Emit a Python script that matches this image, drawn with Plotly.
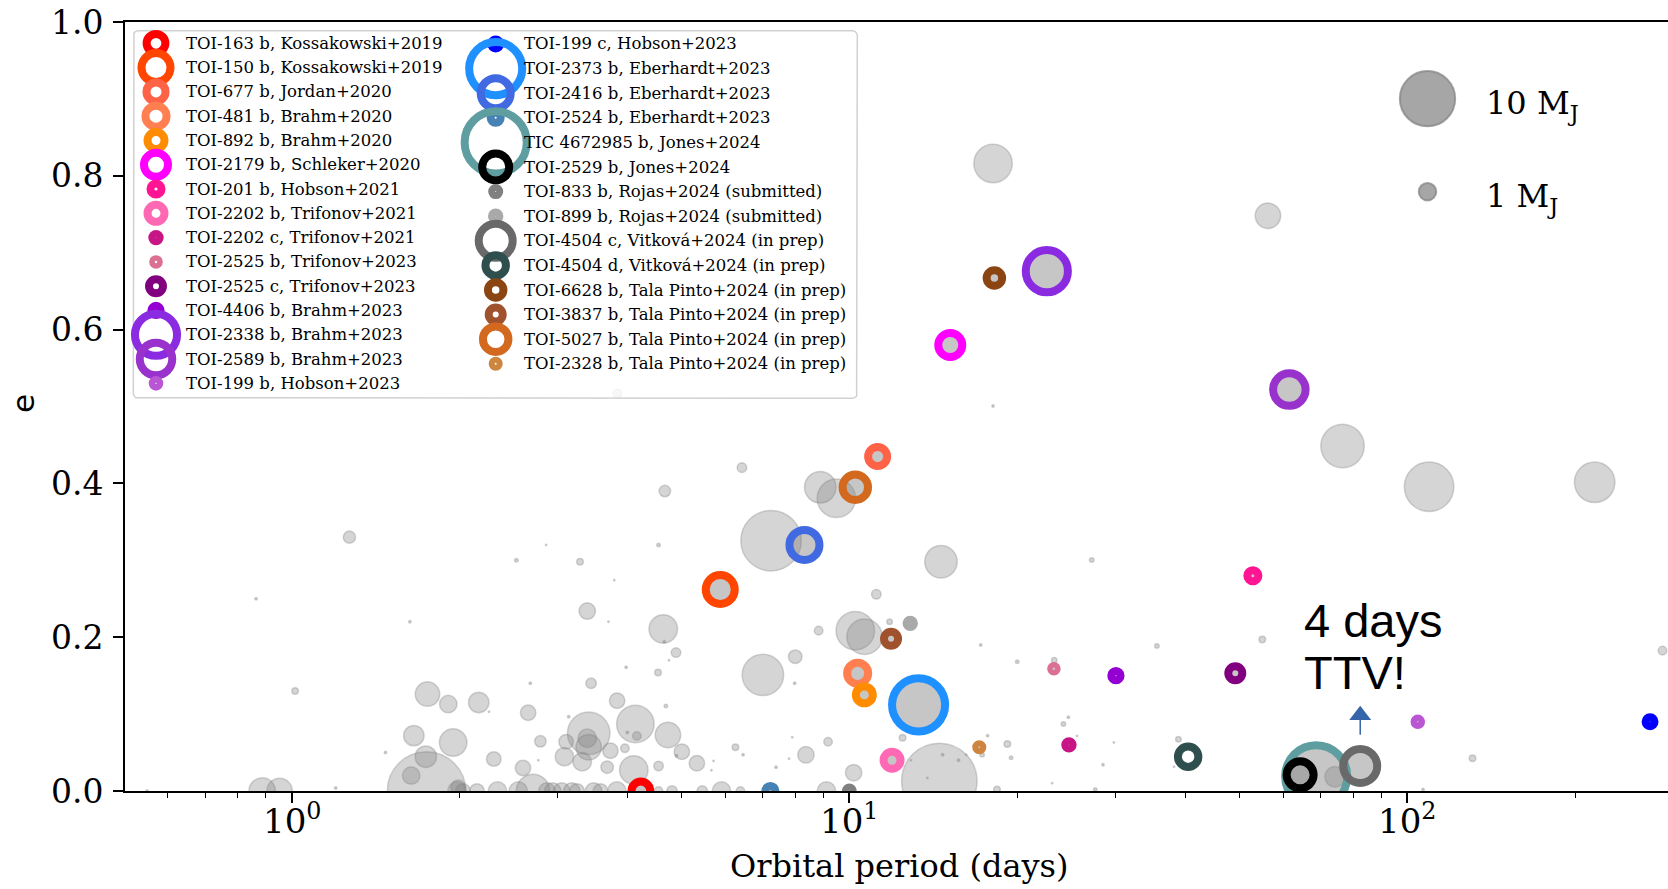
import numpy as np
import plotly.graph_objects as go

# ---------------- background population (period [d], eccentricity, mass [M_J]) ----------------
cat_period = [1.27, 2.53, 0.864, 1.63, 1.015, 1.753, 1.91, 2.166, 2.26, 1.657,
              1.949, 1.741, 1.639, 1.746, 1.474, 2.305, 0.886, 0.952, 1.2, 0.551,
              2.656, 2.6, 2.794, 2.68, 3.444, 3.98, 4.54, 3.14, 3.41, 3.39,
              3.41, 3.107, 3.085, 3.32, 3.68, 3.73, 3.96, 3.835, 4.135, 4.16,
              4.0, 4.69, 4.73, 4.108, 5.01, 5.33, 4.55, 4.9, 5.71, 5.66,
              6.25, 6.45, 7.39, 8.36, 9.16, 7.9, 7.8, 7.98, 7.0, 10.18,
              6.42, 4.67, 8.87, 9.48, 7.24, 2.86, 4.55, 3.29, 3.79, 3.39,
              3.70, 4.64, 4.66, 4.89, 4.75, 11.18, 10.25, 10.65, 11.81, 8.81,
              8.0, 12.46, 12.9, 14.5, 14.7, 15.7, 13.8, 16.2, 17.3, 17.7,
              19.2, 19.5, 18.4, 17.2, 20.0, 23.3, 18.1, 27.2, 14.6, 35.6,
              55.0, 24.2, 24.7, 25.6, 29.8, 28.5, 23.1, 38.9, 38.2, 18.1,
              56.3, 76.6, 109.5, 216.9, 287.0, 131.0, 74.3, 3.84, 2.77, 27.6,
              106.8, 1.98, 1.99, 2.03, 2.15, 2.34, 2.55, 2.71, 2.87, 2.94,
              3.05, 3.18, 3.25, 3.48, 3.58, 3.83, 4.55, 4.81, 5.45, 5.9,
              6.38, 9.1]
cat_ecc = [0.330, 0.300, 0.250, 0.220, 0.130, 0.126, 0.113, 0.115, 0.103, 0.072,
           0.063, 0.0446, 0.020, 0.0, 0.050, 0.0416, 0.0, 0.0, 0.004, 0.0,
           0.1017, 0.030, 0.0646, 0.140, 0.140, 0.161, 0.154, 0.0966, 0.075, 0.0686,
           0.057, 0.064, 0.0446, 0.038, 0.031, 0.0524, 0.0555, 0.1174, 0.0871, 0.0715,
           0.076, 0.1105, 0.0728, 0.0273, 0.0511, 0.036, 0.0325, 0.046, 0.039, 0.027,
           0.057, 0.047, 0.031, 0.047, 0.064, 0.070, 0.042, 0.140, 0.151, 0.0238,
           0.4205, 0.390, 0.395, 0.3806, 0.3255, 0.320, 0.320, 0.298, 0.274, 0.234,
           0.220, 0.2107, 0.194, 0.180, 0.170, 0.2558, 0.2085, 0.2006, 0.220, 0.2085,
           0.1747, 0.0693, 0.040, 0.013, 0.047, 0.040, 0.017, 0.047, 0.047, 0.072,
           0.061, 0.0433, 0.002, 0.190, 0.168, 0.170, 0.5007, 0.3004, 0.2982, 0.1886,
           0.197, 0.087, 0.096, 0.0715, 0.063, 0.034, 0.010, 0.0673, 0.0316, 0.816,
           0.748, 0.4486, 0.3957, 0.4014, 0.1825, 0.0425, 0.0185, 0.517, 0.040, 0.002,
           0.002, 0.0, 0.005, 0.0, 0.0, 0.0, 0.0, 0.0, 0.0, 0.0,
           0.0, 0.0, 0.0, 0.0, 0.0, 0.0, 0.0, 0.0, 0.0, 0.0,
           0.0, 0.0]
cat_mass = [0.49, 0.04, 0.02, 0.02, 0.14, 1.96, 1.0, 1.37, 0.007, 1.37,
            2.47, 1.51, 1.0, 20.1, 0.02, 0.69, 2.29, 2.12, 0.02, 0.02,
            0.78, 0.78, 0.43, 0.02, 0.36, 0.02, 0.14, 0.02, 5.9, 1.12,
            2.12, 0.69, 1.12, 1.12, 0.51, 0.78, 0.24, 0.78, 4.59, 0.24,
            0.02, 0.04, 2.12, 2.65, 0.78, 0.78, 0.3, 0.02, 0.007, 0.007,
            0.14, 0.02, 0.02, 0.89, 0.24, 0.007, 0.007, 0.02, 5.62, 0.89,
            0.3, 0.43, 3.24, 4.84, 11.95, 0.007, 0.04, 0.14, 0.007, 0.89,
            0.007, 2.65, 0.02, 0.3, 0.007, 0.3, 4.84, 4.12, 0.1, 0.24,
            0.6, 0.14, 0.007, 18.6, 0.02, 0.02, 0.007, 0.007, 0.066, 0.02,
            0.14, 0.04, 0.14, 0.02, 0.04, 0.1, 0.02, 0.066, 3.45, 0.066,
            0.14, 0.066, 0.02, 0.007, 0.007, 0.02, 0.007, 0.1, 0.007, 4.84,
            2.12, 6.18, 8.0, 5.36, 0.24, 0.14, 1.37, 0.24, 0.007, 0.04,
            0.02, 1.12, 0.69, 0.69, 0.69, 1.12, 1.12, 3.67, 0.89, 0.89,
            0.89, 0.89, 0.69, 0.89, 0.69, 1.12, 0.24, 0.36, 0.36, 1.12,
            0.24, 1.12]

# ---------------- highlighted planets ----------------
pl_name = ["TOI-163 b", "TOI-150 b", "TOI-677 b", "TOI-481 b", "TOI-892 b",
           "TOI-2179 b", "TOI-201 b", "TOI-2202 b", "TOI-2202 c", "TOI-2525 b",
           "TOI-2525 c", "TOI-4406 b", "TOI-2338 b", "TOI-2589 b", "TOI-199 b",
           "TOI-199 c", "TOI-2373 b", "TOI-2416 b", "TOI-2524 b", "TIC 4672985 b",
           "TOI-2529 b", "TOI-833 b", "TOI-899 b", "TOI-4504 c", "TOI-4504 d",
           "TOI-6628 b", "TOI-3837 b", "TOI-5027 b", "TOI-2328 b"]
pl_ref = ["Kossakowski+2019", "Kossakowski+2019", "Jordan+2020", "Brahm+2020", "Brahm+2020",
          "Schleker+2020", "Hobson+2021", "Trifonov+2021", "Trifonov+2021", "Trifonov+2023",
          "Trifonov+2023", "Brahm+2023", "Brahm+2023", "Brahm+2023", "Hobson+2023",
          "Hobson+2023", "Eberhardt+2023", "Eberhardt+2023", "Eberhardt+2023", "Jones+2024",
          "Jones+2024", "Rojas+2024 (submitted)", "Rojas+2024 (submitted)",
          "Vitková+2024 (in prep)", "Vitková+2024 (in prep)",
          "Tala Pinto+2024 (in prep)", "Tala Pinto+2024 (in prep)",
          "Tala Pinto+2024 (in prep)", "Tala Pinto+2024 (in prep)"]
pl_color = ["red", "orangered", "tomato", "coral", "darkorange",
            "magenta", "deeppink", "hotpink", "mediumvioletred", "palevioletred",
            "purple", "darkviolet", "blueviolet", "darkorchid", "mediumorchid",
            "blue", "dodgerblue", "royalblue", "steelblue", "cadetblue",
            "black", "grey", "darkgrey", "dimgrey", "darkslategrey",
            "saddlebrown", "sienna", "chocolate", "peru"]
pl_period = [4.23, 5.87, 11.24, 10.35, 10.64, 15.17, 52.9, 11.93, 24.76, 23.27,
             49.2, 30.06, 22.6, 61.5, 104.5, 272.6, 13.31, 8.31, 7.22, 68.7,
             64.3, 10.0, 12.86, 82.4, 40.5, 18.2, 11.88, 10.25, 17.1]
pl_ecc = [0.0, 0.262, 0.435, 0.153, 0.125, 0.580, 0.280, 0.040, 0.060, 0.159,
          0.153, 0.150, 0.676, 0.522, 0.090, 0.090, 0.112, 0.320, 0.0, 0.019,
          0.021, 0.0, 0.218, 0.0325, 0.0446, 0.667, 0.198, 0.395, 0.057]
pl_mass = [1.15, 2.75, 1.18, 1.45, 0.94, 1.88, 0.40, 0.94, 0.18, 0.10,
           0.64, 0.28, 5.8, 3.45, 0.14, 0.26, 9.2, 2.94, 0.33, 12.6,
           2.38, 0.16, 0.18, 3.77, 1.37, 0.78, 0.64, 2.12, 0.12]
pl_in_catalog = [True] * 24 + [False] + [True] * 4

# size key and annotation
key_mass = [10, 1]
key_label = ["10 M<sub>J</sub>", "1 M<sub>J</sub>"]
ttv_planet = "TOI-4504 c"
ttv_text = ["4 days", "TTV!"]

# axis ticks
x_major = [1, 10, 100]
x_major_text = ["10<sup>0</sup>", "10<sup>1</sup>", "10<sup>2</sup>"]
y_major = [0, 0.2, 0.4, 0.6, 0.8, 1.0]

# ---------------- layout geometry ----------------
FIG_W, FIG_H = 1668, 889
ML, MR, MT, MB = 125, 0, 22, 98
PW, PH = FIG_W - ML - MR, FIG_H - MT - MB
X_RANGE = [-0.2985, 2.4677]
SIZE_K = 17.5      # marker diameter in px per sqrt(M_J)
RING_W = 8         # ring stroke width in px
SERIF = "DejaVu Serif"


def msize(m):
    return SIZE_K * np.sqrt(np.asarray(m, dtype=float))


def fx(xpix):
    return (xpix - ML) / PW


def fy(ypix):
    return (FIG_H - MB - ypix) / PH


def rounded_rect(x0, y0, x1, y1, r):
    xs, ys = [], []
    for cx, cy, a0, a1 in [(x1 - r, y0 + r, -90, 0), (x1 - r, y1 - r, 0, 90),
                           (x0 + r, y1 - r, 90, 180), (x0 + r, y0 + r, 180, 270)]:
        t = np.radians(np.linspace(a0, a1, 7))
        xs += list(cx + r * np.cos(t))
        ys += list(cy + r * np.sin(t))
    return xs + [xs[0]], ys + [ys[0]]


fig = go.Figure()

# grey background population
fig.add_trace(go.Scatter(
    x=cat_period, y=cat_ecc, mode="markers", hoverinfo="skip",
    marker=dict(size=msize(cat_mass), opacity=1, color="rgba(128,128,128,0.33)",
                line=dict(color="rgba(128,128,128,0.33)", width=1.5)),
))

# catalogue counterparts of the highlighted planets
inner = [i for i, c in enumerate(pl_in_catalog) if c]
fig.add_trace(go.Scatter(
    x=[pl_period[i] for i in inner], y=[pl_ecc[i] for i in inner],
    mode="markers", hoverinfo="skip",
    marker=dict(size=msize([pl_mass[i] for i in inner]), opacity=1,
                color="rgba(128,128,128,0.45)",
                line=dict(color="rgba(128,128,128,0.3)", width=1)),
))

# highlighted planets as coloured rings
fig.add_trace(go.Scatter(
    x=pl_period, y=pl_ecc, mode="markers", text=pl_name, hoverinfo="text",
    marker=dict(size=msize(pl_mass), opacity=1, color="rgba(0,0,0,0)",
                line=dict(color=pl_color, width=RING_W)),
))

# arrow pointing at the TTV planet
k = pl_name.index(ttv_planet)
fig.add_trace(go.Scatter(
    x=[pl_period[k], pl_period[k]], y=[0.073, 0.094], mode="lines", hoverinfo="skip",
    line=dict(color="#3465a8", width=1.5),
))
fig.add_trace(go.Scatter(
    x=[pl_period[k]], y=[0.0985], mode="markers", hoverinfo="skip",
    marker=dict(symbol="triangle-up", size=19, opacity=1, color="#3465a8",
                line=dict(width=0)),
))

# ---------------- legend panel (pixel overlay axes) ----------------
LX0, LY0, LX1, LY1 = 133.3, 30.7, 857.3, 398.3
bx, by = rounded_rect(LX0, LY0, LX1, LY1, 5)
fig.add_trace(go.Scatter(
    x=bx, y=by, mode="lines", fill="toself", fillcolor="rgba(255,255,255,0.8)",
    line=dict(color="rgba(204,204,204,0.9)", width=1.5), hoverinfo="skip",
    xaxis="x2", yaxis="y2",
))

n_col1 = 15
leg_x, leg_y, txt_x = [], [], []
for i in range(len(pl_name)):
    if i < n_col1:
        leg_x.append(156.0)
        leg_y.append(43.3 + i * 24.29)
        txt_x.append(183.5)
    else:
        j = i - n_col1
        leg_x.append(495.7)
        leg_y.append(44.0 + j * 24.6)
        txt_x.append(522.0)

fig.add_trace(go.Scatter(
    x=leg_x, y=leg_y, mode="markers", hoverinfo="skip", cliponaxis=False,
    marker=dict(size=msize(pl_mass), opacity=1, color="rgba(0,0,0,0)",
                line=dict(color=pl_color, width=RING_W)),
    xaxis="x2", yaxis="y2",
))

# size key
key_y = [98.7, 191.7]
fig.add_trace(go.Scatter(
    x=[1427.5] * len(key_mass), y=key_y, mode="markers", hoverinfo="skip",
    marker=dict(size=msize(key_mass), opacity=1, color="rgba(128,128,128,0.7)",
                line=dict(color="rgba(128,128,128,0.7)", width=2)),
    xaxis="x2", yaxis="y2",
))

annotations = []
for i in range(len(pl_name)):
    annotations.append(dict(
        x=fx(txt_x[i]), y=fy(leg_y[i]), xref="paper", yref="paper",
        text=f"{pl_name[i]}, {pl_ref[i]}", showarrow=False,
        xanchor="left", yanchor="middle",
        font=dict(family=SERIF, size=16.5, color="black"),
    ))
for lab, yy in zip(key_label, [105, 198]):
    annotations.append(dict(
        x=fx(1484), y=fy(yy), xref="paper", yref="paper", text=lab, showarrow=False,
        xanchor="left", yanchor="middle", font=dict(family=SERIF, size=32, color="black"),
    ))
for line, yy in zip(ttv_text, [620.0, 672.5]):
    annotations.append(dict(
        x=fx(1302), y=fy(yy), xref="paper", yref="paper", text=line, showarrow=False,
        xanchor="left", yanchor="middle",
        font=dict(family="Liberation Sans", size=47, color="black"),
    ))
# x tick labels, placed at the decade positions of the log axis
for v, lab in zip(x_major, x_major_text):
    annotations.append(dict(
        x=np.log10(v), y=fy(819), xref="x", yref="paper", text=lab, showarrow=False,
        xanchor="center", yanchor="middle",
        font=dict(family=SERIF, size=34, color="black"),
    ))
# axis titles
annotations.append(dict(
    x=fx(899), y=fy(866), xref="paper", yref="paper", text="Orbital period (days)",
    showarrow=False, xanchor="center", yanchor="middle",
    font=dict(family=SERIF, size=32, color="black"),
))
annotations.append(dict(
    x=fx(23), y=fy(404), xref="paper", yref="paper", text="e", textangle=-90,
    showarrow=False, xanchor="center", yanchor="middle",
    font=dict(family="DejaVu Sans", size=31, color="black"),
))

minor_vals = [v * d for d in (0.1, 1, 10, 100) for v in range(2, 10)]
minor_vals = [v for v in minor_vals if 0.5 < v < 300]

fig.update_layout(
    width=FIG_W, height=FIG_H,
    margin=dict(l=ML, r=MR, t=MT, b=MB, pad=0),
    paper_bgcolor="white", plot_bgcolor="white",
    showlegend=False,
    annotations=annotations,
    xaxis=dict(
        type="log", range=X_RANGE, showgrid=False, zeroline=False,
        showline=True, linecolor="black", linewidth=2, mirror=True,
        ticks="outside", ticklen=10, tickwidth=1.5, tickcolor="black",
        tickvals=x_major, showticklabels=False,
        minor=dict(ticks="outside", ticklen=5, tickwidth=1.2, tickcolor="black",
                   tickmode="array", tickvals=minor_vals, showgrid=False),
    ),
    yaxis=dict(
        range=[0, 1], showgrid=False, zeroline=False,
        showline=True, linecolor="black", linewidth=2,
        ticks="outside", ticklen=10, tickwidth=1.5, tickcolor="black",
        tickvals=y_major, tickformat=".1f",
        tickfont=dict(family=SERIF, size=33, color="black"),
        ticklabelstandoff=3,
    ),
    xaxis2=dict(overlaying="x", anchor="y2", range=[ML, FIG_W - MR], visible=False,
                fixedrange=True),
    yaxis2=dict(overlaying="y", anchor="x2", range=[FIG_H - MB, MT], visible=False,
                fixedrange=True),
)

fig.write_html("out.html")
